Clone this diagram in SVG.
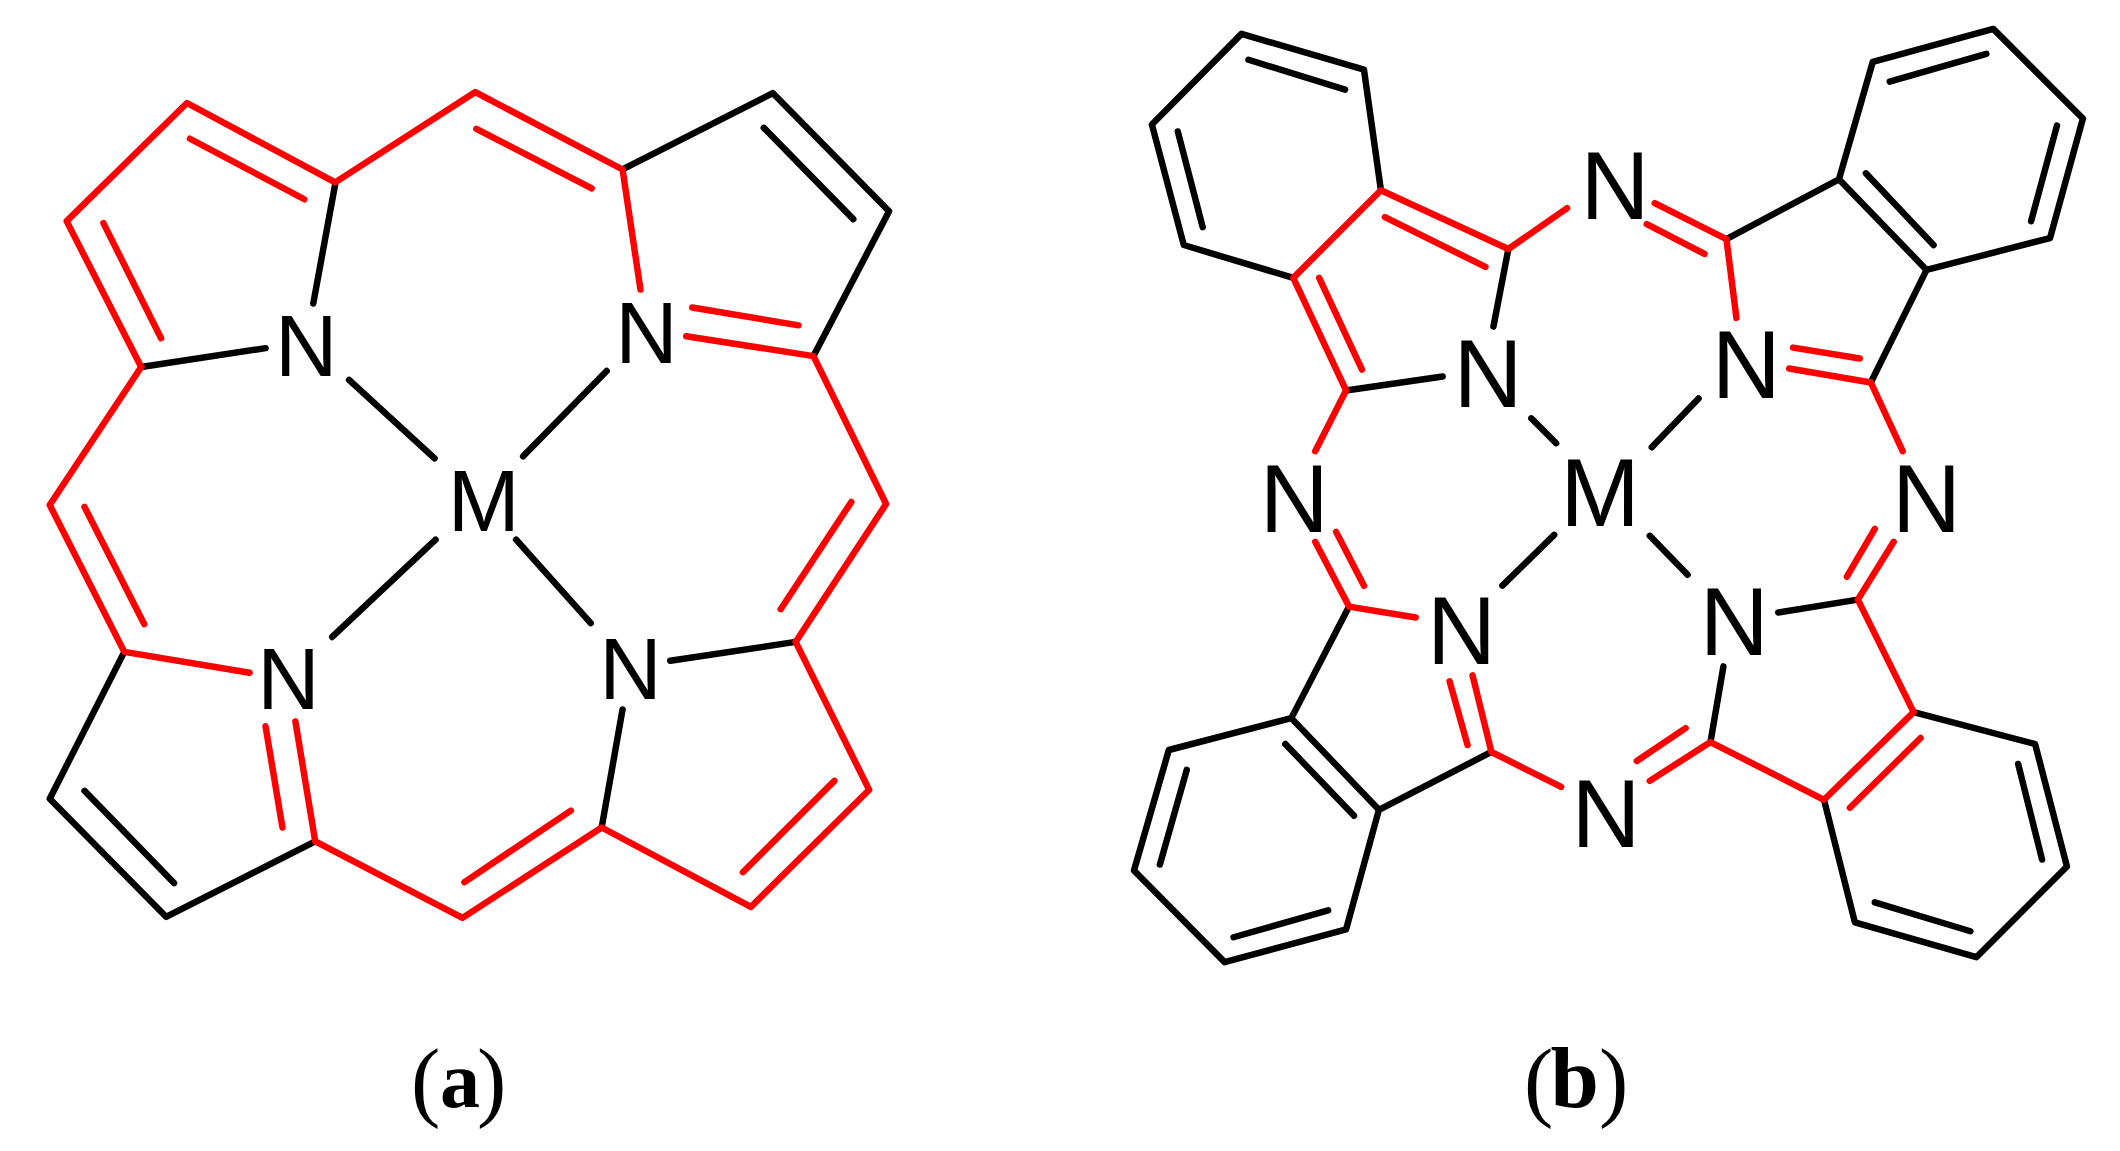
<svg xmlns="http://www.w3.org/2000/svg" width="2120" height="1151" viewBox="0 0 2120 1151">
<style>
.k{stroke:#000;stroke-width:6.500;fill:none;stroke-linecap:round;stroke-linejoin:round}
.r{stroke:#f00;stroke-width:6.500;fill:none;stroke-linecap:round;stroke-linejoin:round}
.a{font-family:"Liberation Sans",Arial,sans-serif;font-size:87px;fill:#000;text-anchor:middle}
.b{font-family:"Liberation Sans",Arial,sans-serif;font-size:96px;fill:#000;text-anchor:middle}
.c{font-family:"Liberation Serif","Times New Roman",serif;font-size:88px;fill:#000}
</style>
<rect width="2120" height="1151" fill="#fff"/>
<g id="connectors-a" transform="matrix(.9945 0 0 .9925 0 3.750)">
<path class="k" d="M337 182L315 302M142 366L267 347M351 379L437 458M610 370L526 456M438 540L334 638M519 540L594 624"/>
<path class="k" d="M626 167L777 90L894 209L818 355M125 653L50 801L167 920L317 844M85 793L175 886M768 125L858 217M605 830L626 711M800 643L674 662"/>
<path class="r" d="M142 366L67 219L188 100L337 180L478 89L626 167M191 136L306 197M104 221L162 337M479 126L595 186M626 167L644 288"/>
<path class="r" d="M142 366L50 505L125 653L251 674M85 507L145 625M690 335L818 355L891 504L800 643L874 792L755 910L605 830L465 921L317 844L297 723M696 306L803 324M856 502L785 610M839 783L747 875M574 813L467 885M284 830L267 728"/>
</g>
<g id="connectors-b" transform="matrix(.9957 0 0 .996 4.860 2)">
<path class="k" d="M1382 189L1365 68L1242 32L1152 123L1184 244L1294 277M1249 58L1346 88M1178 130L1203 226M1510 248L1495 326M1347 390L1444 376M1729 238L1842 178L1876 60L1997 27L2087 117L2054 237L1930 269L1842 178M1893 80L1990 52M2061 124L2035 220M1869 172L1937 244M1930 269L1874 382M1533 418L1558 443M1701 398L1654 447"/>
<path class="k" d="M1350 607L1292 719L1169 751L1134 872L1225 964L1347 931L1380 811L1292 719M1187 771L1160 866M1234 939L1329 912M1286 745L1355 817M1380 811L1493 753M1713 743L1726 667M1861 600L1781 613M1556 535L1504 586M1652 536L1690 575M1917 713L2039 745L2071 868L1980 959L1858 924L1827 801M2022 765L2046 861M1878 904L1974 933"/>
<path class="r" d="M1569 207L1510 248L1382 189L1294 277L1347 390L1316 451M1386 216L1487 266M1320 277L1363 369M1657 202L1729 238L1739 317M1707 253L1649 223M1792 368L1874 382L1906 451M1863 358L1796 347"/>
<path class="r" d="M1316 542L1350 607L1417 618M1365 586L1337 532M1474 676L1493 753L1563 788M1469 746L1451 682M1652 782L1713 743L1827 801L1917 713L1861 600L1897 542M1688 729L1639 762M1853 809L1924 739M1850 577L1878 529"/>
</g>
<g id="porphyrin-atoms" transform="matrix(.9945 0 0 .9925 0 3.750)">
<g id="a-n1"><text class="a" x="308" y="375">N</text></g>
<g id="a-n2"><text class="a" x="650" y="362">N</text></g>
<g id="a-m"><text class="a" x="486.500" y="531">M</text></g>
<g id="a-n3"><text class="a" x="290" y="711">N</text></g>
<g id="a-n4"><text class="a" x="634" y="701">N</text></g>
</g>
<g id="phthalocyanine-atoms" transform="matrix(.9957 0 0 .996 4.860 2)">
<g id="b-n1"><text class="b" x="1617" y="218">N</text></g>
<g id="b-n2"><text class="b" x="1489.500" y="407">N</text></g>
<g id="b-n3"><text class="b" x="1749" y="398">N</text></g>
<g id="b-n4"><text class="b" x="1295" y="532">N</text></g>
<g id="b-m"><text class="b" x="1602" y="526">M</text></g>
<g id="b-n5"><text class="b" x="1930" y="532">N</text></g>
<g id="b-n6"><text class="b" x="1463" y="665">N</text></g>
<g id="b-n7"><text class="b" x="1737" y="656">N</text></g>
<g id="b-n8"><text class="b" x="1608" y="848">N</text></g>
</g>
<g id="captions">
<text class="c" y="1110"><tspan x="411">(</tspan><tspan x="440" y="1107" font-weight="bold" font-size="80">a</tspan><tspan x="477" y="1110">)</tspan></text>
<text class="c" y="1110"><tspan x="1524">(</tspan><tspan x="1550.500" y="1107" font-weight="bold" font-size="87">b</tspan><tspan x="1599" y="1110">)</tspan></text>
</g>
</svg>
